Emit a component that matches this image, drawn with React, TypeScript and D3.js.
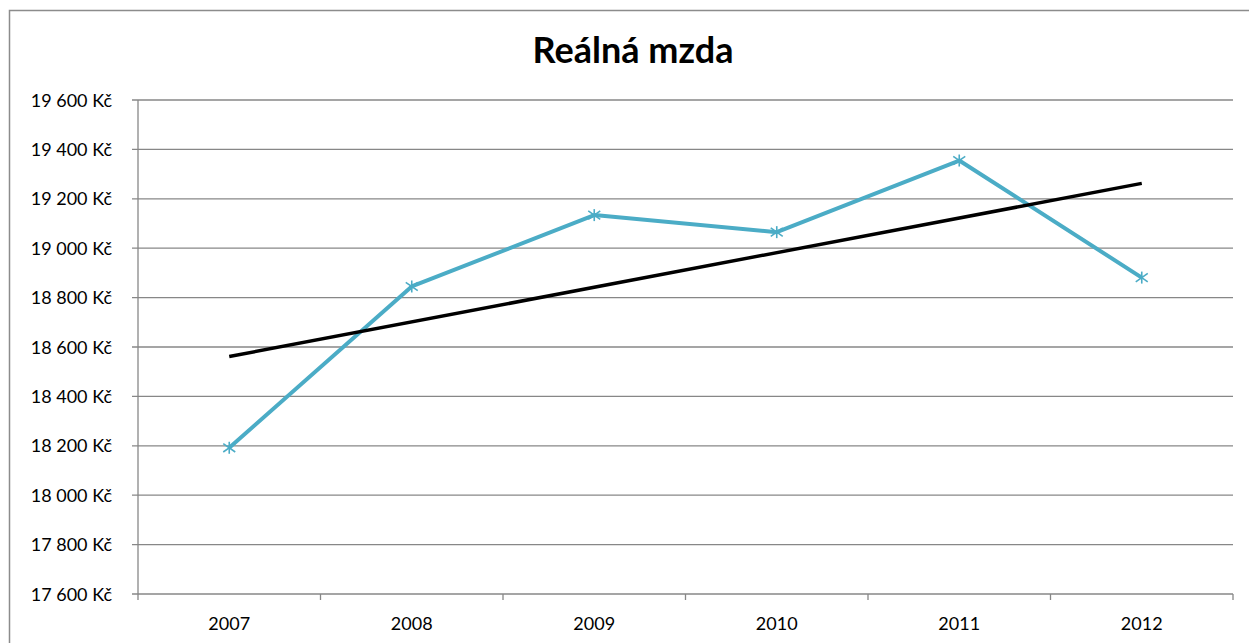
import React from "react";
import * as d3 from "d3";

const years = ["2007", "2008", "2009", "2010", "2011", "2012"];
const wages = [18192, 18845, 19134, 19065, 19355, 18881];
const yTicks = [17600, 17800, 18000, 18200, 18400, 18600, 18800, 19000, 19200, 19400, 19600];
const title = "Reálná mzda";

const W = 1249, H = 643;
const left = 138, right = 1233, top = 100, bottom = 594;
const FONT = "Lato, 'Open Sans', sans-serif";

function fmt(v: number) {
  const s = String(v);
  return s.slice(0, s.length - 3) + " " + s.slice(-3) + " Kč";
}

export default function App() {
  const x = d3.scaleBand<string>().domain(years).range([left, right]);
  const y = d3.scaleLinear().domain([17600, 19600]).range([bottom, top]);
  const cx = (d: string) => (x(d) as number) + x.bandwidth() / 2;

  // linear trend (least squares)
  const idx = wages.map((_, i) => i + 1);
  const mx = d3.mean(idx) as number;
  const my = d3.mean(wages) as number;
  const slope = d3.sum(idx.map((i, k) => (i - mx) * (wages[k] - my))) / d3.sum(idx.map((i) => (i - mx) ** 2));
  const icpt = my - slope * mx;
  const trend = [icpt + slope * 1, icpt + slope * 6];

  const line = d3.line<number>().x((_, i) => cx(years[i])).y((v) => y(v));
  const gridColor = "#878787";

  return (
    <svg width={W} height={H} style={{ position: "absolute", left: 0, top: 0, background: "#fff" }}>
      <rect x={9.5} y={10.5} width={1300} height={700} fill="#fff" stroke="#8c8c8c" strokeWidth={1.5} />
      <text x={633} y={63} textAnchor="middle" fontFamily={FONT} fontWeight="bold" fontSize={36} fill="#000">
        {title}
      </text>
      {yTicks.map((t) => (
        <g key={t}>
          <line x1={left - 6} x2={right} y1={y(t)} y2={y(t)} stroke={gridColor} strokeWidth={1.3} />
          <text x={112} y={y(t) + 6.5} textAnchor="end" fontFamily={FONT} fontSize={18} fill="#000">
            {fmt(t)}
          </text>
        </g>
      ))}
      <line x1={left} x2={left} y1={top} y2={bottom + 6} stroke={gridColor} strokeWidth={1.3} />
      {years.map((yr) => (
        <line key={"t" + yr} x1={(x(yr) as number) + x.bandwidth()} x2={(x(yr) as number) + x.bandwidth()} y1={bottom} y2={bottom + 6} stroke={gridColor} strokeWidth={1.3} />
      ))}
      {years.map((yr) => (
        <text key={yr} x={cx(yr)} y={630} textAnchor="middle" fontFamily={FONT} fontSize={18} fill="#000">
          {yr}
        </text>
      ))}
      <path d={line(wages) as string} fill="none" stroke="#4BACC6" strokeWidth={4} strokeLinejoin="round" />
      {wages.map((v, i) => {
        const px = cx(years[i]), py = y(v), r = 6;
        return (
          <g key={"m" + i} stroke="#4BACC6" strokeWidth={1.6}>
            <line x1={px} x2={px} y1={py - r} y2={py + r} />
            <line x1={px - r} x2={px + r} y1={py - r * 0.7} y2={py + r * 0.7} />
            <line x1={px - r} x2={px + r} y1={py + r * 0.7} y2={py - r * 0.7} />
          </g>
        );
      })}
      <line x1={cx(years[0])} x2={cx(years[5])} y1={y(trend[0])} y2={y(trend[1])} stroke="#000" strokeWidth={3.5} />
    </svg>
  );
}
